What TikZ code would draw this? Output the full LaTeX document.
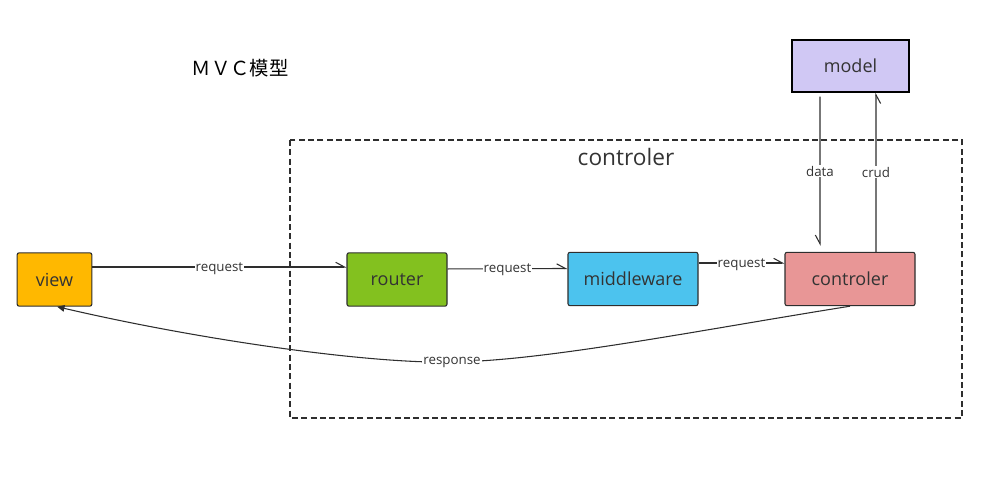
\documentclass[tikz,border=0pt]{standalone}
\usepackage{fontspec}
\setmainfont{Open Sans}
\newfontfamily\cjk{Noto Sans CJK SC}
\usetikzlibrary{arrows.meta,calc}

\definecolor{txtgray}{HTML}{333333}
\definecolor{linegray}{HTML}{2E2E2E}
\definecolor{viewcol}{HTML}{FFB800}
\definecolor{routercol}{HTML}{83C11F}
\definecolor{midcol}{HTML}{4CC3EE}
\definecolor{ctrlcol}{HTML}{E89696}
\definecolor{modelcol}{HTML}{D0C8F4}

\tikzset{
    box/.style={draw=linegray, line width=0.8pt, rounded corners=1.5pt, text=txtgray, minimum height=40pt,
        font=\fontsize{13.5}{15}\selectfont},
    lbl/.style={fill=white, inner sep=0.8pt, text=txtgray, font=\fontsize{10}{11}\selectfont},
    arrL/.style={draw=linegray, line width=0.8pt, -{Straight Barb[left, length=6.5pt, width=7pt]}},
    arrR/.style={draw=linegray, line width=0.8pt, -{Straight Barb[right, length=6.5pt, width=7pt]}}
}

\begin{document}
\begin{tikzpicture}[x=0.75pt, y=-0.75pt]
    \useasboundingbox (0,0) rectangle (994,478);

    % Title
    \node[text=black, font=\cjk\fontsize{14.5}{16}\selectfont] (title) at (240,68) {ＭＶＣ模型};

    % Controller frame
    \draw[linegray, line width=0.9pt, dash pattern=on 4.5pt off 2.5pt] (290,140) rectangle (962,418);
    \node[text=txtgray, font=\fontsize{17}{19}\selectfont] (frame) at (626,157) {controler};

    % Boxes
    \node[box, fill=viewcol, minimum width=56pt] (view) at (54.5,279.5) {view};
    \node[box, fill=routercol, minimum width=75pt] (router) at (397,279.5) {router};
    \node[box, fill=midcol, minimum width=97.5pt] (mid) at (633,279) {middleware};
    \node[box, fill=ctrlcol, minimum width=97.5pt] (ctrl) at (850,279) {controler};
    \node[box, fill=modelcol, draw=black, line width=1.1pt, rounded corners=0pt, minimum width=88pt, minimum height=39pt] (model) at (850.5,66) {model};

    % Requests
    \draw[arrL] ([yshift=9.4pt]view.east) -- node[lbl, yshift=-1pt] {request} ([yshift=9.4pt]router.west);
    \draw[arrL] ([yshift=7.9pt]router.east) -- node[lbl, yshift=-1pt] {request} ([yshift=7.9pt]mid.west);
    \draw[arrL] ([yshift=12pt]mid.east) -- node[lbl, yshift=-1pt] {request} ([yshift=12pt]ctrl.west);

    % Model links
    \draw[arrR] ([xshift=-22.9pt,yshift=-3pt]model.south) -- node[lbl] {data} ([xshift=-22.5pt,yshift=4.5pt]ctrl.north);
    \draw[arrR] ([xshift=19.5pt]ctrl.north) -- node[lbl] {crud} ([xshift=19.1pt]model.south);

    % Response
    \draw[draw=linegray, line width=0.8pt, -{Triangle[length=5.5pt, width=5pt]}] (ctrl.south)
        .. controls (700,330) and (545,361) .. (452,362) node[lbl] {response}
        .. controls (370,364) and (200,340) .. ([xshift=2pt]view.south);
\end{tikzpicture}
\end{document}
